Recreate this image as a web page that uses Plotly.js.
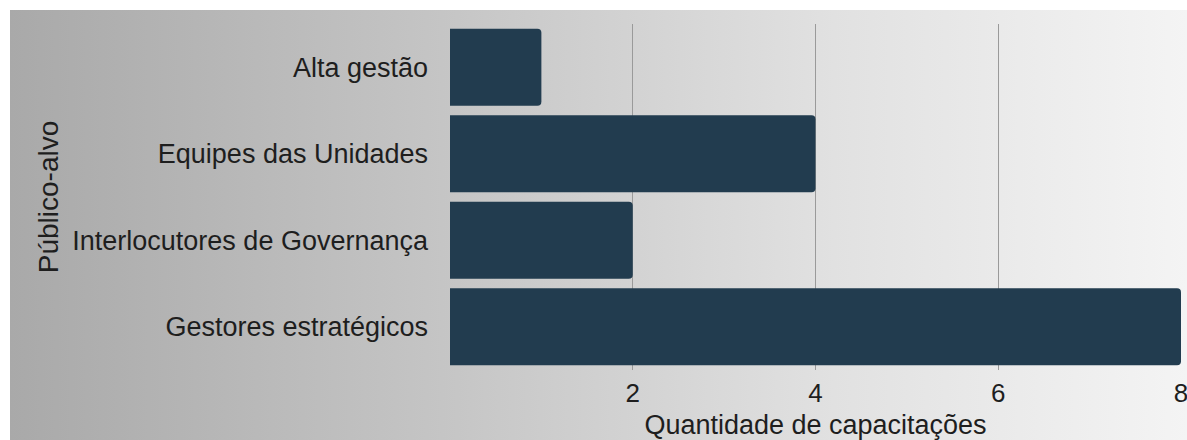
<!DOCTYPE html>
<html>
<head>
<meta charset="utf-8">
<script src="https://cdn.plot.ly/plotly-3.0.1.min.js"></script>
<style>
  html, body { margin: 0; padding: 0; background: #ffffff; }
  #wrap { position: relative; width: 1187px; height: 440px; overflow: hidden; }
  #bg { position: absolute; left: 10px; top: 10px; right: 0; bottom: 0;
        background: linear-gradient(to right, #a9a9a9 0%, #c6c6c6 38%, #e1e1e1 70%, #f4f4f4 100%); }
  #chart { position: absolute; left: 0; top: 0; width: 1187px; height: 440px; }
</style>
</head>
<body>
<div id="wrap">
  <div id="bg"></div>
  <div id="chart"></div>
</div>
<script>
const categories = ["Alta gestão", "Equipes das Unidades", "Interlocutores de Governança", "Gestores estratégicos"];
const quantidades = [1, 4, 2, 8];
const xTickValues = [2, 4, 6, 8];
const xTitle = "Quantidade de capacitações";
const yTitle = "Público-alvo";

const FONT = "'Liberation Sans', Arial, sans-serif";

const trace = {
  type: "bar",
  orientation: "h",
  x: quantidades,
  y: categories,
  marker: { color: "#223c4f", cornerradius: 4 },
  hoverinfo: "x+y"
};

const layout = {
  width: 1187,
  height: 440,
  margin: { l: 450, r: 6, t: 24, b: 70 },
  paper_bgcolor: "rgba(0,0,0,0)",
  plot_bgcolor: "rgba(0,0,0,0)",
  bargap: 0.11,
  showlegend: false,
  font: { family: FONT, color: "#1e1e1e" },
  xaxis: {
    range: [0, 8],
    tickvals: xTickValues,
    ticktext: xTickValues.map(String),
    tickfont: { family: FONT, size: 26, color: "#1e1e1e" },
    ticklabeloverflow: "allow",
    ticklabelstandoff: 5,
    showgrid: true,
    gridcolor: "#9a9a9a",
    gridwidth: 1,
    zeroline: false,
    showline: false,
    ticks: "",
    automargin: false,
    title: { text: xTitle, font: { family: FONT, size: 27, color: "#1e1e1e" }, standoff: 12 }
  },
  yaxis: {
    type: "category",
    categoryorder: "array",
    categoryarray: categories,
    autorange: "reversed",
    tickfont: { family: FONT, size: 27, color: "#1e1e1e" },
    ticklabelstandoff: 21,
    showgrid: false,
    zeroline: false,
    showline: false,
    ticks: "",
    automargin: false,
    title: { text: yTitle, font: { family: FONT, size: 28, color: "#1e1e1e" }, standoff: 5 }
  }
};

Plotly.newPlot("chart", [trace], layout, { displayModeBar: false, staticPlot: true });
</script>
</body>
</html>
